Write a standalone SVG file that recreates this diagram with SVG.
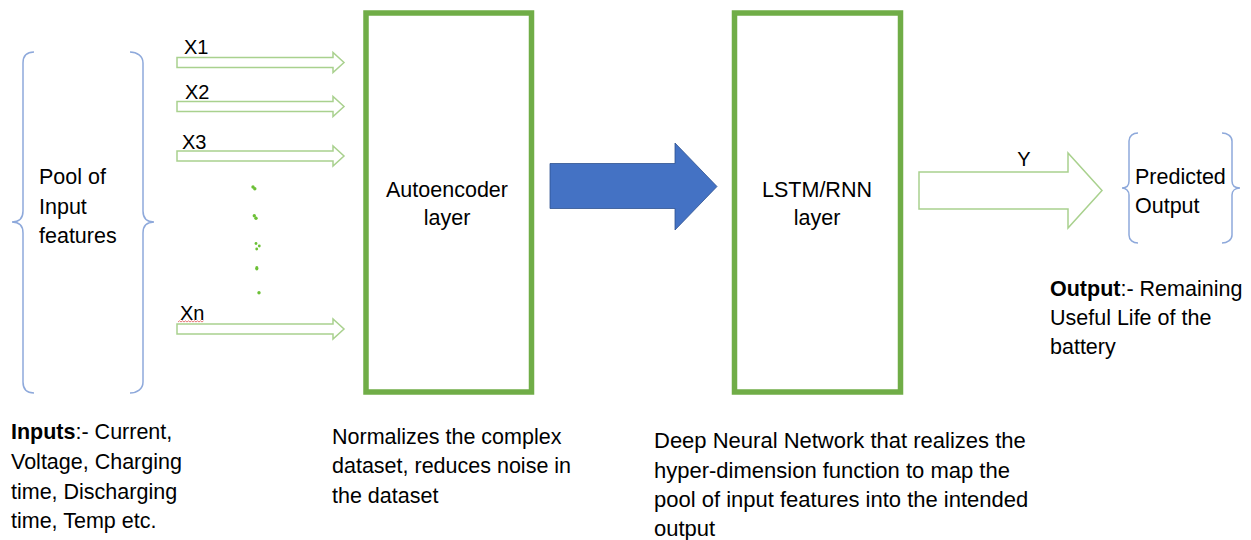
<svg xmlns="http://www.w3.org/2000/svg" width="1251" height="540" viewBox="0 0 1251 540">
<style>
  text { font-family: "Liberation Sans", Arial, sans-serif; font-size: 21.5px; fill: #000; }
  .xl { font-size: 20px; }
  .deep { font-size: 22px; }
  .brace { fill: none; stroke: #8EA9DB; stroke-width: 1.5; }
  .inarrow { fill: #fff; stroke: #A9D18E; stroke-width: 1.5; stroke-linejoin: miter; }
  .box { fill: #fff; stroke: #70AD47; stroke-width: 5.5; }
  .dot { fill: #6CC036; }
  .b { font-weight: bold; }
</style>
<defs>
  <path id="smallArrow" d="M0,-5 H156 V-10 L167,0 L156,10 V5 H0 Z"/>
</defs>

<g id="input-pool">
  <path class="brace" d="M34,52 C27,52 23,56 23,63 V211 C23,218 19,222 12,222 C19,222 23,226 23,233 V382 C23,389 27,393 34,393"/>
  <path class="brace" d="M130,52 C137,52 143,56 143,63 V211 C143,218 147,222 154,222 C147,222 143,226 143,233 V382 C143,389 137,393 130,393"/>
  <text x="39" y="184">Pool of</text>
  <text x="39" y="214">Input</text>
  <text x="39" y="243">features</text>
</g>

<g id="connectors">
  <use href="#smallArrow" class="inarrow" x="177" y="62.5"/>
  <use href="#smallArrow" class="inarrow" x="177" y="106.5"/>
  <use href="#smallArrow" class="inarrow" x="177" y="156"/>
  <use href="#smallArrow" class="inarrow" x="177" y="329"/>
  <path id="blue-arrow" d="M550,163.5 H675 V143 L717,186.5 L675,230 V208.5 H550 Z" fill="#4472C4" stroke="#2F528F" stroke-width="0.8"/>
  <path id="y-arrow" class="inarrow" d="M919,172 H1068 V153 L1102,190.5 L1068,228 V209 H919 Z"/>
</g>

<g id="input-labels">
  <text class="xl" x="184" y="54">X1</text>
  <text class="xl" x="185" y="99">X2</text>
  <text class="xl" x="182" y="149">X3</text>
  <text class="xl" x="180" y="320">Xn</text>
  <path d="M178,322 l1.5,-1.2 l1.5,1.2 l1.5,-1.2 l1.5,1.2 l1.5,-1.2 l1.5,1.2 l1.5,-1.2 l1.5,1.2 l1.5,-1.2 l1.5,1.2 l1.5,-1.2 l1.5,1.2 l1.5,-1.2 l1.5,1.2 l1.5,-1.2 l1.5,1.2 l1.5,-1.2" fill="none" stroke="#E05555" stroke-width="0.8"/>
  <text class="xl" x="1024" y="166" text-anchor="middle">Y</text>
</g>

<g id="dots">
  <circle class="dot" cx="253" cy="187" r="1.7"/>
  <circle class="dot" cx="254.8" cy="188.8" r="1.7"/>
  <circle class="dot" cx="254.3" cy="215.8" r="1.7"/>
  <circle class="dot" cx="256" cy="218.2" r="1.7"/>
  <circle class="dot" cx="256" cy="243.5" r="1.4"/>
  <circle class="dot" cx="259.3" cy="246" r="1.4"/>
  <circle class="dot" cx="256.7" cy="249" r="1.4"/>
  <ellipse class="dot" cx="256.8" cy="268.3" rx="1.6" ry="2.2"/>
  <circle class="dot" cx="259" cy="292.7" r="1.7"/>
</g>

<g id="autoencoder">
  <rect class="box" x="366" y="13" width="165.5" height="379"/>
  <text x="447" y="197" text-anchor="middle">Autoencoder</text>
  <text x="447" y="225" text-anchor="middle">layer</text>
</g>

<g id="lstm">
  <rect class="box" x="734.5" y="13" width="166" height="379"/>
  <text x="817" y="197" text-anchor="middle">LSTM/RNN</text>
  <text x="817" y="225" text-anchor="middle">layer</text>
</g>

<g id="predicted-output">
  <path class="brace" d="M1138,133 C1133,133 1129,136 1129,141 V181 C1129,186 1126,188 1122,188 C1126,188 1129,191 1129,195 V235 C1129,240 1133,243 1138,243"/>
  <path class="brace" d="M1222,133 C1227,133 1232,136 1232,141 V181 C1232,186 1235,188 1240,188 C1235,188 1232,191 1232,195 V235 C1232,240 1227,243 1222,243"/>
  <text x="1135" y="184">Predicted</text>
  <text x="1135" y="213">Output</text>
</g>

<g id="output-note">
  <text x="1050" y="296"><tspan class="b">Output</tspan>:- Remaining</text>
  <text x="1050" y="325">Useful Life of the</text>
  <text x="1050" y="354">battery</text>
</g>

<g id="inputs-note">
  <text x="11" y="439"><tspan class="b">Inputs</tspan>:- Current,</text>
  <text x="11" y="469">Voltage, Charging</text>
  <text x="11" y="499">time, Discharging</text>
  <text x="11" y="528">time, Temp etc.</text>
</g>

<g id="autoencoder-note">
  <text x="332" y="444">Normalizes the complex</text>
  <text x="332" y="473">dataset, reduces noise in</text>
  <text x="332" y="503">the dataset</text>
</g>

<g id="lstm-note">
  <text class="deep" x="654" y="448">Deep Neural Network that realizes the</text>
  <text class="deep" x="654" y="477.5">hyper-dimension function to map the</text>
  <text class="deep" x="654" y="507">pool of input features into the intended</text>
  <text class="deep" x="654" y="536">output</text>
</g>
</svg>
